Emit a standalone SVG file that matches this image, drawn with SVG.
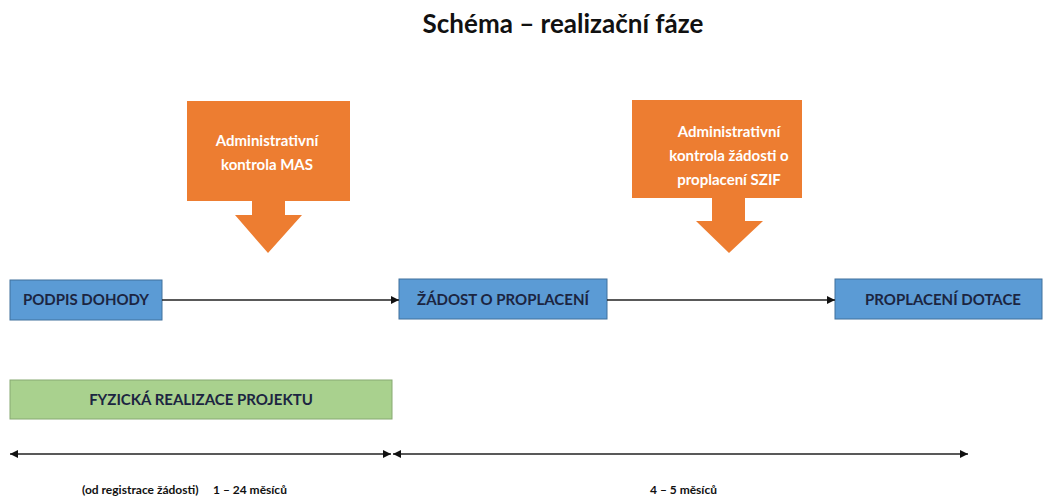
<svg xmlns="http://www.w3.org/2000/svg" width="1046" height="500" viewBox="0 0 1046 500">
<defs>
<style>
.t{font-family:Lato,"Open Sans","Liberation Sans",sans-serif;font-weight:bold;}
.co{fill:#ED7D31;}
.cot{fill:#FFFFFF;font-size:15px;text-anchor:middle;}
.bl{fill:#5B9BD5;stroke:#41719C;stroke-width:1;}
.blt{fill:#1C2541;font-size:15px;text-anchor:middle;}
.gr{fill:#A9D18E;stroke:#87A972;stroke-width:1;}
.ln{stroke:#222;stroke-width:1.3;fill:none;}
.lb{fill:#111;font-size:12px;}
</style>
<marker id="ah" viewBox="0 0 10 10" refX="10" refY="5" markerWidth="8" markerHeight="8" markerUnits="userSpaceOnUse" orient="auto-start-reverse">
<path d="M0,0 L10,5 L0,10 z" fill="#111"/>
</marker>
</defs>
<rect width="1046" height="500" fill="#FFFFFF"/>
<text class="t" x="563" y="33" font-size="26" text-anchor="middle" fill="#111">Schéma – realizační fáze</text>

<g id="callout-mas">
<path class="co" d="M187,101 H350 V201 H285 V215 H302 L268,253 L235,215 H252 V201 H187 Z"/>
<text class="t cot" x="267" y="146">Administrativní</text>
<text class="t cot" x="267" y="170">kontrola MAS</text>
</g>

<g id="callout-szif">
<path class="co" d="M632,100 H802 V198 H745 V221 H763 L729,253 L696,221 H712 V198 H632 Z"/>
<text class="t cot" x="729" y="137">Administrativní</text>
<text class="t cot" x="729" y="161">kontrola žádosti o</text>
<text class="t cot" x="729" y="185">proplacení SZIF</text>
</g>

<g id="podpis">
<rect class="bl" x="10" y="280" width="152" height="40"/>
<text class="t blt" x="86" y="305">PODPIS DOHODY</text>
</g>
<g id="zadost">
<rect class="bl" x="399" y="279" width="208" height="40"/>
<text class="t blt" x="503" y="305">ŽÁDOST O PROPLACENÍ</text>
</g>
<g id="proplaceni">
<rect class="bl" x="835" y="279" width="207" height="40"/>
<text class="t blt" x="943" y="305">PROPLACENÍ DOTACE</text>
</g>
<g id="fyzicka">
<rect class="gr" x="10" y="380" width="382" height="39"/>
<text class="t blt" x="201" y="405">FYZICKÁ REALIZACE PROJEKTU</text>
</g>

<g id="connectors">
<line class="ln" x1="162" y1="300" x2="399" y2="300" marker-end="url(#ah)"/>
<line class="ln" x1="607" y1="300" x2="835" y2="300" marker-end="url(#ah)"/>
<line class="ln" x1="10" y1="454" x2="391" y2="454" marker-start="url(#ah)" marker-end="url(#ah)"/>
<line class="ln" x1="393" y1="454" x2="968" y2="454" marker-start="url(#ah)" marker-end="url(#ah)"/>
</g>

<text class="t lb" x="82" y="494">(od registrace žádosti)<tspan x="213">1 – 24 měsíců</tspan></text>
<text class="t lb" x="650" y="494">4 – 5 měsíců</text>
</svg>
